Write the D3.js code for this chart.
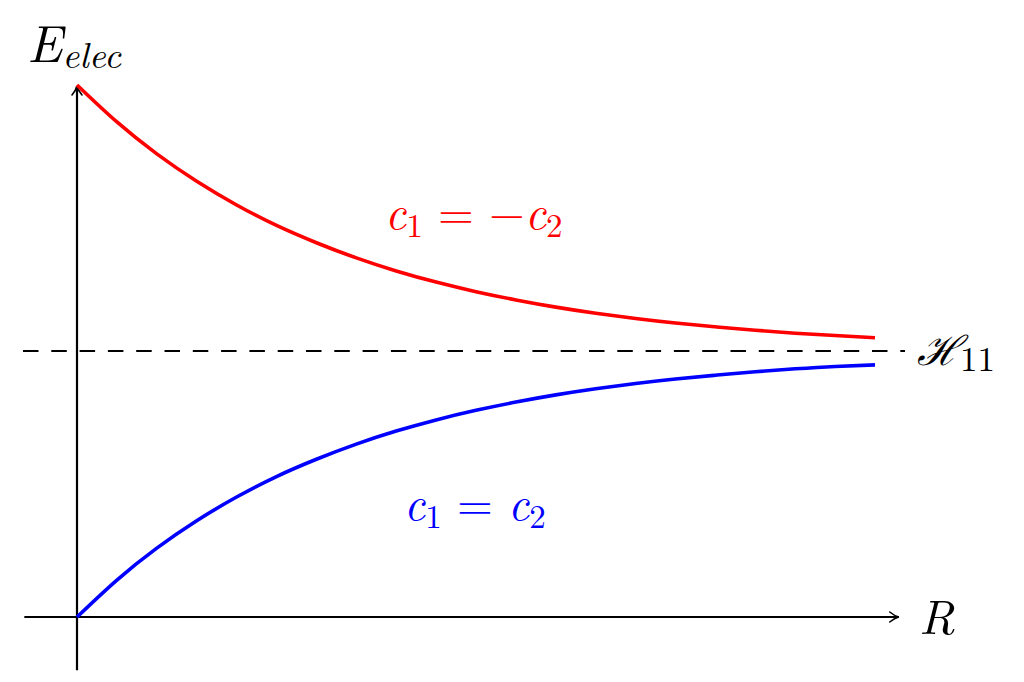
<!DOCTYPE html>
<html>
<head>
<meta charset="utf-8">
<script src="https://cdn.jsdelivr.net/npm/d3@7/dist/d3.min.js"></script>
<style>
html,body{margin:0;padding:0;background:#fff;}
svg{display:block;}
text{font-family:"Latin Modern Roman","Liberation Serif","DejaVu Serif",serif;}
</style>
</head>
<body>
<svg id="chart" width="1024" height="682"></svg>
<script>
// Data
const R = [0,0.5,1,1.5,2,2.5,3,3.5,4,4.5,5,5.5,6,6.5,7,7.5,8,8.5,9,9.5,10];
const antibonding = [1,0.861,0.741,0.638,0.549,0.472,0.407,0.350,0.301,0.259,0.223,0.192,0.165,0.142,0.122,0.105,0.091,0.078,0.067,0.058,0.050];
const bonding = [-1,-0.861,-0.741,-0.638,-0.549,-0.472,-0.407,-0.350,-0.301,-0.259,-0.223,-0.192,-0.165,-0.142,-0.122,-0.105,-0.091,-0.078,-0.067,-0.058,-0.052];
const H11 = 0;
const xDomain = [-0.66, 10.31];
const yDomain = [-1.2, 1.0];

const svg = d3.select("#chart");
const x = d3.scaleLinear().domain([0,10]).range([77,875]);
const y = d3.scaleLinear().domain([-1,1]).range([617,85]);

// arrow marker
const defs = svg.append("defs");
defs.append("marker").attr("id","arr").attr("viewBox","0 0 12 12")
  .attr("refX",10).attr("refY",6).attr("markerWidth",12).attr("markerHeight",12)
  .attr("markerUnits","userSpaceOnUse").attr("orient","auto")
  .append("path").attr("d","M1,1 Q6,5 10,6 Q6,7 1,11")
  .attr("fill","none").attr("stroke","#000").attr("stroke-width",1.6).attr("stroke-linecap","round");

// axes
svg.append("line").attr("x1",x(xDomain[0])).attr("x2",x(xDomain[1])-1)
  .attr("y1",y(-1)).attr("y2",y(-1)).attr("stroke","#000").attr("stroke-width",2.2)
  .attr("marker-end","url(#arr)");
svg.append("line").attr("x1",x(0)).attr("x2",x(0))
  .attr("y1",y(yDomain[0])).attr("y2",y(yDomain[1])+1).attr("stroke","#000").attr("stroke-width",2.2)
  .attr("marker-end","url(#arr)");

// dashed H11 line
svg.append("line").attr("x1",23).attr("x2",905)
  .attr("y1",y(H11)).attr("y2",y(H11)).attr("stroke","#000").attr("stroke-width",2.2)
  .attr("stroke-dasharray","15.5,12.8");

const line = d3.line().x((d,i)=>x(R[i])).y(d=>y(d)).curve(d3.curveNatural);
svg.append("path").datum(antibonding).attr("d",line).attr("fill","none")
  .attr("stroke","#ff0000").attr("stroke-width",3.6);
svg.append("path").datum(bonding).attr("d",line).attr("fill","none")
  .attr("stroke","#0000ff").attr("stroke-width",3.6);

// labels
const yl = svg.append("text").attr("x",27).attr("y",62).attr("font-size",52).attr("font-style","italic");
yl.append("tspan").text("E");
yl.append("tspan").attr("font-size",37).attr("dy",6).text("elec");

svg.append("text").attr("x",919).attr("y",634).attr("font-size",49).attr("font-style","italic").text("R");

const hl = svg.append("text").attr("x",917).attr("y",365).attr("font-size",44);
hl.append("tspan").attr("font-style","italic").attr("font-size",41).text("ℋ");
hl.append("tspan").attr("font-size",35).attr("dy",6).text("11");

function eqLabel(xp, yp, color, parts){
  const t = svg.append("text").attr("x",xp).attr("y",yp).attr("font-size",46).attr("fill",color);
  parts.forEach(p=>{
    const s = t.append("tspan").text(p.t);
    if(p.i) s.attr("font-style","italic");
    if(p.sub){ s.attr("font-size",33).attr("dy",8); }
    if(p.up){ s.attr("dy",-8); }
  });
}
eqLabel(385,229,"#ff0000",[{t:"c",i:1},{t:"1",sub:1},{t:" = −",up:1},{t:"c",i:1},{t:"2",sub:1}]);
eqLabel(404,520,"#0000ff",[{t:"c",i:1},{t:"1",sub:1},{t:" = ",up:1},{t:"c",i:1},{t:"2",sub:1}]);
</script>
</body>
</html>
